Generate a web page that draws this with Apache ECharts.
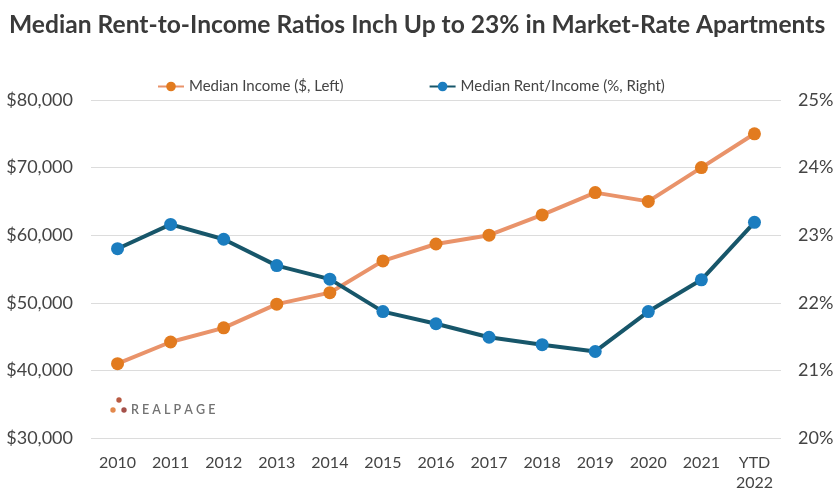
<!DOCTYPE html>
<html>
<head>
<meta charset="utf-8">
<script src="https://cdn.jsdelivr.net/npm/echarts@6/dist/echarts.min.js"></script>
<style>
  html, body { margin: 0; padding: 0; background: #ffffff; }
  #chart { width: 839px; height: 496px; }
</style>
</head>
<body>
<div id="chart"></div>
<script>
// Years shown along the bottom axis
const years = ['2010', '2011', '2012', '2013', '2014', '2015', '2016', '2017', '2018', '2019', '2020', '2021', 'YTD\n2022'];

// Median household income of market-rate renters ($)
const medianIncome = [41000, 44200, 46300, 49800, 51500, 56200, 58700, 60000, 63000, 66300, 65000, 70000, 75000];

// Median rent as share of income (%)
const rentToIncome = [22.80, 23.16, 22.94, 22.55, 22.35, 21.87, 21.69, 21.49, 21.38, 21.28, 21.87, 22.34, 23.19];

const incomeTicks = { min: 30000, max: 80000, interval: 10000 };
const ratioTicks = { min: 20, max: 25, interval: 1 };

const FONT = 'Lato, "Open Sans", sans-serif';
const chart = echarts.init(document.getElementById('chart'));

chart.setOption({
  backgroundColor: '#ffffff',
  animation: false,
  title: {
    text: 'Median Rent-to-Income Ratios Inch Up to 23% in Market-Rate Apartments',
    left: 4,
    top: 8,
    textStyle: { fontFamily: FONT, fontSize: 24.6, fontWeight: 'bold', color: '#3a3a3a' }
  },
  legend: {
    top: 74,
    left: 152,
    itemGap: 85,
    itemWidth: 26,
    itemHeight: 12,
    textStyle: { fontFamily: FONT, fontSize: 15, color: '#444444' },
    data: ['Median Income ($, Left)', 'Median Rent/Income (%, Right)']
  },
  grid: { left: 91, right: 58, top: 100, bottom: 58 },
  xAxis: {
    type: 'category',
    data: years,
    boundaryGap: true,
    axisLine: { show: false },
    axisTick: { show: false },
    axisLabel: { fontFamily: FONT, fontSize: 16, color: '#444444', margin: 15, lineHeight: 20, interval: 0 }
  },
  yAxis: [
    {
      type: 'value',
      min: incomeTicks.min, max: incomeTicks.max, interval: incomeTicks.interval,
      axisLine: { show: false },
      axisTick: { show: false },
      splitLine: { lineStyle: { color: '#dcdcdc', width: 1 } },
      axisLabel: {
        fontFamily: FONT, fontSize: 18, color: '#444444', margin: 18,
        formatter: v => '$' + v.toLocaleString('en-US')
      }
    },
    {
      type: 'value',
      min: ratioTicks.min, max: ratioTicks.max, interval: ratioTicks.interval,
      axisLine: { show: false },
      axisTick: { show: false },
      splitLine: { show: false },
      axisLabel: {
        fontFamily: FONT, fontSize: 18, color: '#444444', margin: 17,
        formatter: v => v + '%'
      }
    }
  ],
  series: [
    {
      name: 'Median Income ($, Left)',
      type: 'line',
      yAxisIndex: 0,
      data: medianIncome,
      symbol: 'circle',
      symbolSize: 13,
      lineStyle: { color: '#e9936a', width: 4 },
      itemStyle: { color: '#e27b1f' }
    },
    {
      name: 'Median Rent/Income (%, Right)',
      type: 'line',
      yAxisIndex: 1,
      data: rentToIncome,
      symbol: 'circle',
      symbolSize: 13,
      lineStyle: { color: '#17566a', width: 4 },
      itemStyle: { color: '#1b7dbf' }
    }
  ],
  graphic: [
    // RealPage wordmark with its three dots
    { type: 'circle', shape: { cx: 119, cy: 400, r: 2.7 }, style: { fill: '#b85a42' } },
    { type: 'circle', shape: { cx: 113, cy: 410, r: 2.7 }, style: { fill: '#e3894d' } },
    { type: 'circle', shape: { cx: 124, cy: 410, r: 2.7 }, style: { fill: '#a4504a' } },
    {
      type: 'text', left: 131, top: 403,
      style: { text: 'R E A L P A G E', fill: '#727272', font: '600 12.5px ' + FONT }
    }
  ]
});
</script>
</body>
</html>
